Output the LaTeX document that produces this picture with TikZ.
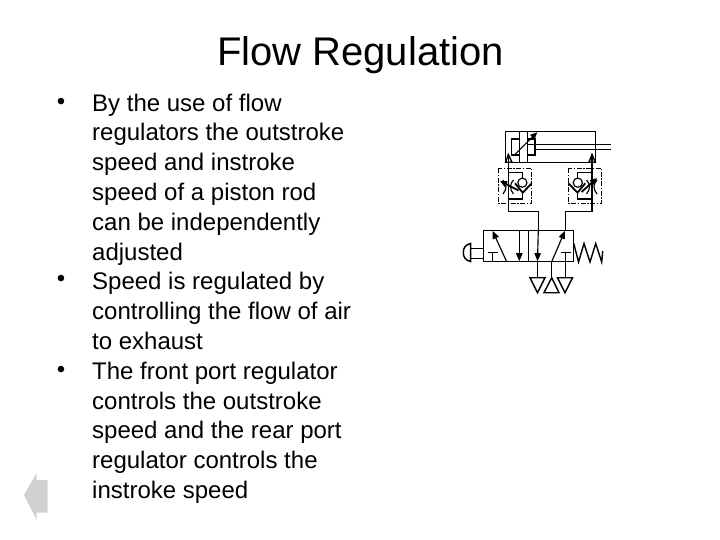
\documentclass[tikz,border=0pt]{standalone}
\usepackage{fontspec}
\setmainfont{Liberation Sans}
\usetikzlibrary{arrows.meta}
\tikzset{
  pic line/.style={line width=1.15pt,black,line join=miter},
  thick line/.style={line width=1.8pt,black},
  flow arrow/.style={pic line,-{Triangle[length=8pt,width=6.5pt]}},
  dashdot box/.style={line width=0.8pt,dash pattern=on 5pt off 1.5pt on 1.5pt off 1.5pt},
  body text/.style={anchor=north west,align=left,inner sep=0pt,font=\fontsize{24}{29.8}\selectfont},
  bullet mark/.style={inner sep=0pt,font=\fontsize{24}{29}\selectfont},
}
\begin{document}
\begin{tikzpicture}[x=1pt,y=-1pt]
\useasboundingbox (0,0) rectangle (720,540);
\fill[white] (0,0) rectangle (720,540);
% title
\node[inner sep=0pt,font=\fontsize{40}{46}\selectfont] (title) at (360.5,55) {Flow Regulation};
% bullets
\node[bullet mark] (b1) at (61,104) {•};
\node[bullet mark] (b2) at (61,281) {•};
\node[bullet mark] (b3) at (61,372) {•};
% body
\node[body text] (t1) at (92,93.5) {By the use of flow\\regulators the outstroke\\speed and instroke\\speed of a piston rod\\can be independently\\adjusted};
\node[body text] (t2) at (92,272.3) {Speed is regulated by\\controlling the flow of air\\to exhaust};
\node[body text] (t3) at (92,361.7) {The front port regulator\\controls the outstroke\\speed and the rear port\\regulator controls the\\instroke speed};
% back arrow
\fill[black!18] (24,495) -- (36.7,472.7) -- (36.7,480) -- (47.7,480) -- (47.7,512.7) -- (36.7,512.7) -- (36.7,520) -- cycle;
% cylinder
\draw[pic line] (505.3,131.3) rectangle (595.7,162.3);
\draw[pic line] (519.7,131.3) -- (519.7,162.3) (527.3,131.3) -- (527.3,162.3);
\draw[pic line] (511.3,139) rectangle (519.7,155);
\draw[pic line] (527.3,139) rectangle (535,155);
\draw[pic line] (527.3,144.3) -- (610.7,144.3) (535,149.7) -- (610.7,149.7);
\draw[pic line,-{Triangle[length=7pt,width=6pt]}] (513.3,156) -- (537.3,132.2);
% port triangles
\draw[line width=1.4pt] (508.3,154.5) -- (505.6,162.3) -- (512,162.3) -- cycle;
\draw[line width=1.4pt] (592,154.5) -- (588.9,162.3) -- (595.3,162.3) -- cycle;
% pipes
\draw[pic line] (508.3,154.5) -- (508.3,211.7) -- (538.3,211.7) -- (538.3,230.3);
\draw[pic line] (592,154.5) -- (592,211.7) -- (565.3,211.7) -- (565.3,230.3);
% left regulator
\begin{scope}
\draw[dashdot box] (498.3,168.3) rectangle (531.7,203.3);
\draw[pic line] (508.3,172.3) -- (522.7,172.3) -- (522.7,178) (522.7,192.7) -- (522.7,199) -- (508.3,199);
\draw[pic line] (522.4,182.7) circle (4.6);
\draw[thick line] (515,183.3) -- (522.7,192.7) -- (531.7,183.3);
\draw[pic line] (503,180) .. controls (507,184) and (507,189) .. (503,194);
\draw[pic line] (513.5,180) .. controls (509.5,184) and (509.5,189) .. (513.5,194);
\draw[thick line,-{Triangle[length=7pt,width=6pt]}] (518.5,190.5) -- (500,181);
\end{scope}
% right regulator
\begin{scope}
\draw[dashdot box] (568.3,168.3) rectangle (601.7,203.3);
\draw[pic line] (592,172.3) -- (577.5,172.3) -- (577.5,178) (577.5,192.7) -- (577.5,199) -- (592,199);
\draw[pic line] (577.8,182.7) circle (4.6);
\draw[thick line] (585.2,183.3) -- (577.5,192.7) -- (568.5,183.3);
\draw[pic line] (597,180) .. controls (593,184) and (593,189) .. (597,194);
\draw[pic line] (586.5,180) .. controls (590.5,184) and (590.5,189) .. (586.5,194);
\draw[thick line,-{Triangle[length=7pt,width=6pt]}] (581.5,192) -- (597,178);
\end{scope}
% valve
\draw[pic line] (483.3,230.3) rectangle (573.3,261.7);
\draw[pic line] (528.3,230.3) -- (528.3,261.7);
\draw[flow arrow] (506.7,261.7) -- (492.5,230.8);
\draw[flow arrow] (519.3,230.3) -- (519.3,261.2);
\draw[flow arrow] (538.3,230.3) -- (537.5,261.2);
\draw[flow arrow] (551.7,261.7) -- (565,230.8);
\draw[pic line] (487.7,252.7) -- (497.7,252.7) (492.7,252.7) -- (492.7,261.7);
\draw[pic line] (560.7,252.7) -- (570.7,252.7) (565.7,252.7) -- (565.7,261.7);
% plunger
\draw[pic line] (483.3,248.3) -- (470.7,248.3) (483.3,258.7) -- (470.7,258.7);
\draw[line width=1.5pt] (470.7,243.5) .. controls (465.5,244.5) and (463.3,248) .. (463.3,252.5) .. controls (463.3,257) and (465.5,260.5) .. (470.7,261.5) -- cycle;
% spring
\draw[line width=1.4pt] (573.8,243.5) -- (578.5,262) -- (584,243.5) -- (590,262) -- (595.7,243.5) -- (601.7,262) -- (602.7,251);
% exhausts
\draw[pic line] (537.5,261.7) -- (537.5,277.7);
\draw[pic line] (551.7,261.7) -- (551.7,277.7);
\draw[pic line] (565.7,261.7) -- (565.7,277.7);
\draw[line width=1.4pt] (530,277.7) -- (545,277.7) -- (537.5,292.7) -- cycle;
\draw[line width=1.4pt] (551.7,277.7) -- (544,292.7) -- (559,292.7) -- cycle;
\draw[line width=1.4pt] (557.5,277.7) -- (572.5,277.7) -- (565,292.7) -- cycle;
\end{tikzpicture}
\end{document}
